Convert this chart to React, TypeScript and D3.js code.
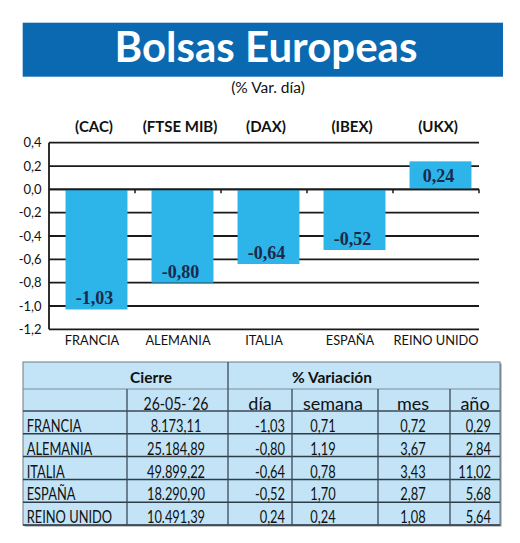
import React from "react";
import * as d3 from "d3";

const categories = ["FRANCIA", "ALEMANIA", "ITALIA", "ESPAÑA", "REINO UNIDO"];
const indices = ["(CAC)", "(FTSE MIB)", "(DAX)", "(IBEX)", "(UKX)"];
const dayChange = [-1.03, -0.8, -0.64, -0.52, 0.24];
const yTicks = [0.4, 0.2, 0.0, -0.2, -0.4, -0.6, -0.8, -1.0, -1.2];

const closeValues = ["8.173,11", "25.184,89", "49.899,22", "18.290,90", "10.491,39"];
const dayValues = ["-1,03", "-0,80", "-0,64", "-0,52", "0,24"];
const weekValues = ["0,71", "1,19", "0,78", "1,70", "0,24"];
const monthValues = ["0,72", "3,67", "3,43", "2,87", "1,08"];
const yearValues = ["0,29", "2,84", "11,02", "5,68", "5,64"];
const subHeaders = ["26-05-´26", "día", "semana", "mes", "año"];

const W = 520;
const H = 543;
const SANS = "Lato, 'Open Sans', sans-serif";

const fmt = (v: number) => v.toFixed(1).replace(".", ",");
const fmt2 = (v: number) => v.toFixed(2).replace(".", ",");

export default function App() {
  const plotL = 49;
  const plotR = 479;
  const y = d3.scaleLinear().domain([-1.2, 0.4]).range([329.3, 142.7]);
  const x = d3.scaleBand<string>().domain(categories).range([plotL, plotR]).paddingInner(0.28).paddingOuter(0.14);
  const xb = d3.scaleBand<string>().domain(categories).range([plotL, plotR]);
  const barShift = 4.5;
  const barColor = "#2db4e8";
  const gridColor = "#1a1a1a";

  // table geometry
  const tL = 23, tR = 500, tT = 362, tB = 525;
  const h1 = 389, h2 = 411;
  const rowY = d3.scaleBand<string>().domain(categories).range([h2, tB]);
  const colX = [tL, 127, 228, 292, 378, 450, tR];
  const condensed = 0.78;

  const dataCols: { vals: string[]; x: number; anchor: "start" | "middle" | "end" }[] = [
    { vals: categories, x: 26.7, anchor: "start" },
    { vals: closeValues, x: 176, anchor: "middle" },
    { vals: dayValues, x: 285, anchor: "end" },
    { vals: weekValues, x: 323, anchor: "middle" },
    { vals: monthValues, x: 413, anchor: "middle" },
    { vals: yearValues, x: 491, anchor: "end" },
  ];
  const subX = [176, 260, 333, 413, 475];
  const subScale = [0.78, 1, 1, 1, 1];

  return (
    <svg width={W} height={H} style={{ position: "absolute", left: 0, top: 0, background: "#fff" }}>
      {/* Banner */}
      <rect x={22.7} y={22.7} width={480.3} height={54} fill="#0a69b1" />
      <text x={266} y={62} textAnchor="middle" fill="#fff" fontFamily={SANS} fontWeight={700} fontSize={42}>
        Bolsas Europeas
      </text>
      <text x={268} y={93} textAnchor="middle" fill="#111" fontFamily={SANS} fontSize={15.5}>
        (% Var. día)
      </text>

      {/* Index labels */}
      {categories.map((c, i) => (
        <text key={"idx" + c} x={(x(c) as number) + x.bandwidth() / 2 + 2} y={132} textAnchor="middle"
          fontFamily={SANS} fontWeight={700} fontSize={15} fill="#111">
          {indices[i]}
        </text>
      ))}

      {/* Gridlines */}
      {yTicks.map((t) => (
        <line key={"g" + t} x1={plotL} x2={plotR} y1={y(t)} y2={y(t)} stroke={gridColor} strokeWidth={1.8} />
      ))}
      <line x1={plotL} x2={plotL} y1={y(0.4)} y2={y(-1.2)} stroke={gridColor} strokeWidth={1.8} />

      {/* Y tick labels */}
      {yTicks.map((t) => (
        <text key={"yt" + t} x={41.5} y={y(t)} dy="0.35em" textAnchor="end" fontFamily={SANS} fontSize={13} fill="#111">
          {fmt(t)}
        </text>
      ))}

      {/* Bars */}
      {categories.map((c, i) => {
        const v = dayChange[i];
        const x0 = (x(c) as number) + barShift;
        const top = y(Math.max(0, v));
        const bot = y(Math.min(0, v));
        return (
          <g key={"b" + c}>
            <rect x={x0} y={top} width={x.bandwidth()} height={bot - top} fill={barColor} />
          </g>
        );
      })}
      {/* zero axis on top + ticks */}
      <line x1={plotL} x2={plotR} y1={y(0)} y2={y(0)} stroke={gridColor} strokeWidth={1.8} />
      {categories.map((c) => (
        <line key={"tk" + c} x1={(xb(c) as number) + xb.bandwidth()} x2={(xb(c) as number) + xb.bandwidth()}
          y1={y(0)} y2={y(0) + 4} stroke={gridColor} strokeWidth={1.5} />
      ))}
      {/* Bar labels */}
      {categories.map((c, i) => {
        const v = dayChange[i];
        const cx = (x(c) as number) + barShift + x.bandwidth() / 2 - 2;
        const ly = v < 0 ? y(v) - 5 : (y(v) + y(0)) / 2;
        return (
          <text key={"bl" + c} x={cx} y={ly} dy={v < 0 ? 0 : "0.35em"} textAnchor="middle"
            fontFamily="'Liberation Serif', 'DejaVu Serif', serif" fontWeight={700} fontSize={18} fill="#1b2a4c">
            {fmt2(v)}
          </text>
        );
      })}

      {/* Category labels */}
      {categories.map((c) => (
        <text key={"cl" + c} x={(xb(c) as number) + xb.bandwidth() / 2} y={345} textAnchor="middle"
          fontFamily={SANS} fontSize={12.8} fill="#111">
          {c}
        </text>
      ))}

      {/* Table */}
      <rect x={tL + 1.5} y={tT + 1.5} width={tR - tL} height={tB - tT} fill="#8a8f94" />
      <rect x={tL} y={tT} width={tR - tL} height={tB - tT} fill="#c2e4f6" stroke="#6d7b86" strokeWidth={1} />
      <line x1={tL} x2={tR} y1={h1} y2={h1} stroke="#7d8e99" strokeWidth={1} />
      <line x1={tL} x2={tR} y1={h2} y2={h2} stroke="#3d4a56" strokeWidth={1.4} />
      {categories.map((c) => (
        <line key={"rl" + c} x1={tL} x2={tR} y1={(rowY(c) as number) + rowY.bandwidth()}
          y2={(rowY(c) as number) + rowY.bandwidth()} stroke="#2f3b47" strokeWidth={1.5} />
      ))}
      <line x1={colX[2]} x2={colX[2]} y1={tT} y2={tB} stroke="#3d4a56" strokeWidth={1.3} />
      {[colX[1], colX[3], colX[4], colX[5]].map((cx) => (
        <line key={"vc" + cx} x1={cx} x2={cx} y1={h1} y2={tB} stroke="#3d4a56" strokeWidth={1.3} />
      ))}
      <text x={151} y={383} textAnchor="middle" fontFamily={SANS} fontWeight={700} fontSize={15.5} fill="#111">Cierre</text>
      <text x={332} y={383} textAnchor="middle" fontFamily={SANS} fontWeight={700} fontSize={15.5} fill="#111">% Variación</text>
      {subHeaders.map((s, i) => (
        <text key={"sh" + s} transform={`translate(${subX[i]},409.5) scale(${subScale[i]},1)`} textAnchor="middle"
          fontFamily={SANS} fontSize={18} fill="#111">
          {s}
        </text>
      ))}
      {dataCols.map((col, ci) =>
        col.vals.map((v, ri) => {
          const by = (rowY(categories[ri]) as number) + rowY.bandwidth() - 1.8;
          return (
            <text key={"d" + ci + "-" + ri} transform={`translate(${col.x},${by}) scale(${condensed},1)`}
              textAnchor={col.anchor} fontFamily={SANS} fontSize={16.5} fill="#111">
              {v}
            </text>
          );
        })
      )}
    </svg>
  );
}
